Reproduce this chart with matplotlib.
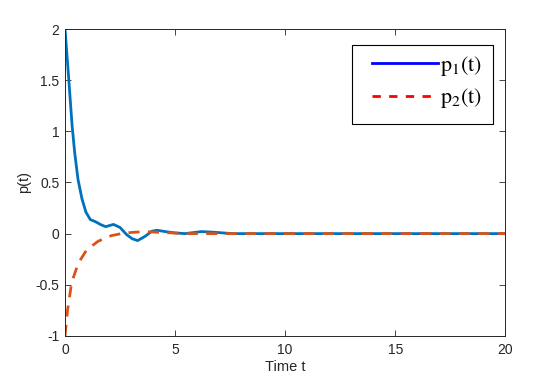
import numpy as np
import matplotlib
matplotlib.use('Agg')
import matplotlib.pyplot as plt
from matplotlib.lines import Line2D
from matplotlib.patches import Rectangle

plt.rcParams['font.family'] = ['Liberation Sans', 'DejaVu Sans']
plt.rcParams['mathtext.fontset'] = 'stix'

# values
t1 = [0, 0.17, 0.32, 0.44, 0.59, 0.77, 0.95, 1.15, 1.38, 1.65, 1.85, 2.2, 2.5, 2.8,
      3.05, 3.3, 3.64, 3.94, 4.17, 4.55, 5.0, 5.45, 6.2, 6.8, 7.6, 10, 15, 20]
p1 = [2.0, 1.51, 1.06, 0.79, 0.53, 0.34, 0.21, 0.137, 0.117, 0.085, 0.068, 0.09, 0.06, -0.01,
      -0.05, -0.068, -0.026, 0.023, 0.033, 0.02, 0.007, 0.0, 0.02, 0.013, 0.0, 0.0, 0.0, 0.0]

t2 = [0, 0.12, 0.3, 0.6, 0.98, 1.5, 2.1, 2.7, 3.6, 4.5, 5.6, 10, 15, 20]
p2 = [-1.0, -0.74, -0.48, -0.29, -0.16, -0.075, -0.02, 0.006, 0.02, 0.01, 0.0, 0.0, 0.0, 0.0]

labels = [r'$\mathrm{p_1(t)}$', r'$\mathrm{p_2(t)}$']

fig = plt.figure(figsize=(5.51, 3.87), dpi=100)
ax = fig.add_axes([0.118, 0.132, 0.799, 0.793])

ax.plot(t1, p1, color='#0072BD', lw=2)
ax.plot(t2, p2, color='#D95319', lw=2, ls=(0, (4, 3)))

ax.set_xlim(0, 20)
ax.set_ylim(-1, 2)
ax.set_xticks([0, 5, 10, 15, 20])
ax.set_yticks([-1, -0.5, 0, 0.5, 1, 1.5, 2])
ax.set_yticklabels(['-1', '-0.5', '0', '0.5', '1', '1.5', '2'])
ax.tick_params(direction='in', top=True, right=True, length=4, width=0.6,
               labelsize=10, colors='#262626')
ax.tick_params(axis='x', pad=5)
ax.tick_params(axis='y', pad=4)
for s in ax.spines.values():
    s.set_color('#262626')
    s.set_linewidth(0.7)
ax.set_xlabel('Time t', fontsize=10.5, color='#262626', labelpad=2)
ax.set_ylabel('p(t)', fontsize=10.5, color='#262626', labelpad=3)

# legend box drawn separately, entries placed inside it
ax.add_patch(Rectangle((0.652, 0.69), 0.321, 0.258, transform=ax.transAxes,
                       facecolor='white', edgecolor='black', lw=0.8, zorder=5))
handles = [Line2D([], [], color='blue', lw=2),
           Line2D([], [], color='red', lw=2, ls=(0, (3, 3)))]
leg = ax.legend(handles, labels, loc='upper left', bbox_to_anchor=(0.698, 0.92),
                frameon=False, fontsize=16, handlelength=2.95, handletextpad=0.1,
                borderaxespad=0, borderpad=0, labelspacing=0.4)
leg.set_zorder(6)

fig.savefig('out.png', dpi=100)
